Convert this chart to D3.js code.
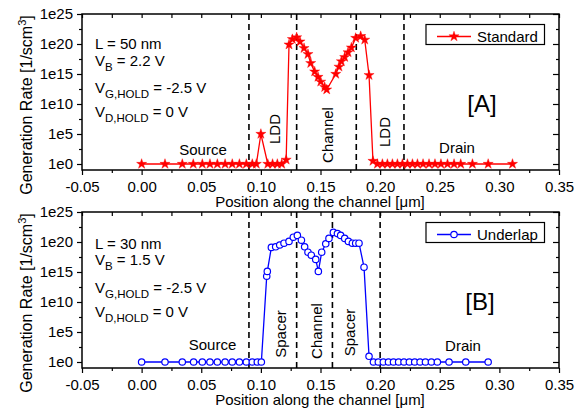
<!DOCTYPE html>
<html><head><meta charset="utf-8">
<script src="https://cdn.jsdelivr.net/npm/d3@7"></script>
<style>
body{margin:0;background:#fff;}
svg{display:block;}
text{font-family:"Liberation Sans",Arial,Helvetica,sans-serif;fill:#000;}
</style></head><body>
<svg id="c" width="582" height="408"></svg>
<script>
// ---- data ----
const xTicks = [-0.05, 0, 0.05, 0.10, 0.15, 0.20, 0.25, 0.30, 0.35];
const xMinorTicks = [-0.025, 0.025, 0.075, 0.125, 0.175, 0.225, 0.275, 0.325];
const yTickExps = [0, 5, 10, 15, 20, 25];
const yMinorExps = [2.5, 7.5, 12.5, 17.5, 22.5];

// Standard device (panel A): position [um], log10 of generation rate
const stdX = [0.000, 0.0196, 0.0341, 0.0433, 0.0509, 0.0573, 0.0635, 0.0700, 0.0760, 0.0820, 0.0878, 0.0928, 0.0962,
  0.1000,
  0.1058, 0.1098, 0.1138, 0.1175, 0.1212,
  0.1236, 0.1264, 0.1300, 0.1328, 0.1362, 0.1395, 0.1418, 0.1451, 0.1479, 0.1502, 0.1535, 0.1552,
  0.1628, 0.1655, 0.1675, 0.1703, 0.1731, 0.1759, 0.1795, 0.1837, 0.1871, 0.1907,
  0.1940,
  0.1977, 0.2019, 0.2061, 0.2103, 0.2145, 0.2187, 0.2229, 0.2271, 0.2313, 0.2360, 0.2410, 0.2460, 0.2510, 0.2565, 0.2620, 0.2676, 0.2774, 0.2906, 0.3110];
const stdLogG = [0,0,0,0,0,0,0,0,0,0,0,0,0,
  5,
  0,0,0,0,0.7,
  19.9, 20.8, 21.1, 20.4, 19.3, 18.3, 16.8, 15.4, 14.5, 13.7, 12.8, 12.4,
  15.0, 16.2, 17.1, 17.8, 18.6, 19.4, 21.0, 21.3, 20.7, 14.8,
  0.5,
  0,0,0,0,0,0,0,0,0,0,0,0,0,0,0,0,0,0,0];

// Underlap device (panel B)
const ulX = [0.000, 0.0196, 0.0341, 0.0436, 0.0509, 0.0573, 0.0635, 0.0700, 0.0760, 0.0820, 0.0878, 0.0928, 0.0970, 0.1004,
  0.1049, 0.1054, 0.1088, 0.1124, 0.1158, 0.1194, 0.1236, 0.1272, 0.1306, 0.1340, 0.1367, 0.1395, 0.1423, 0.1460,
  0.1482, 0.1510, 0.1544, 0.1571, 0.1608, 0.1642, 0.1669, 0.1703, 0.1734, 0.1767, 0.1795, 0.1823, 0.1865, 0.1907,
  0.1944, 0.1985, 0.2027, 0.2070, 0.2112, 0.2155, 0.2200, 0.2245, 0.2290, 0.2335, 0.2380, 0.2430, 0.2480, 0.2578, 0.2718, 0.2906];
const ulLogG = [0,0,0,0,0,0,0,0,0,0,0,0,0,0,
  14.3, 15.1, 19.1, 19.2, 19.5, 19.8, 20.1, 20.8, 21.1, 20.3, 19.2, 18.3, 17.8, 17.1,
  15.1, 18.3, 19.7, 20.6, 21.6, 21.4, 21.1, 20.6, 20.1, 19.8, 19.8, 19.8, 15.8, 0.95,
  0,0,0,0,0,0,0,0,0,0,0,0,0,0,0,0];

const stdBoundaries = [0.09, 0.13, 0.18, 0.22];
const ulBoundaries = [0.09, 0.13, 0.16, 0.20];

const stdParams = [["L = 50 nm", ""], ["V", "B", " = 2.2 V"], ["V", "G,HOLD", " = -2.5 V"], ["V", "D,HOLD", " = 0 V"]];
const ulParams = [["L = 30 nm", ""], ["V", "B", " = 1.5 V"], ["V", "G,HOLD", " = -2.5 V"], ["V", "D,HOLD", " = 0 V"]];

// ---- layout ----
const svg = d3.select("#c");
const L = 82, R = 559;
const x = d3.scaleLinear().domain([-0.05, 0.35]).range([L, R]);
const FONT = 15;
const STAR = 32;

function panel(opt) {
  const top = opt.top, bot = opt.top + 156;
  const y = d3.scaleLog().domain([1e-1, 1e25]).range([bot, top]);
  const g = svg.append("g");
  const fmtX = d => d.toFixed(2);
  const fmtY = d => "1e" + Math.round(Math.log10(d));

  function styleAxis(sel) {
    sel.select(".domain").remove();
    sel.selectAll("line").attr("stroke", "#000").attr("stroke-width", 1.2);
    sel.selectAll("text").style("font-size", FONT + "px").style("font-family", '"Liberation Sans",Arial,sans-serif').attr("fill", "#000");
  }
  // bottom
  g.append("g").attr("transform", `translate(0,${bot})`)
    .call(d3.axisBottom(x).tickValues(xTicks).tickSize(5).tickPadding(6).tickFormat(fmtX)).call(styleAxis);
  g.append("g").attr("transform", `translate(0,${bot})`)
    .call(d3.axisBottom(x).tickValues(xMinorTicks).tickSize(3).tickFormat("")).call(styleAxis);
  // top (inward)
  g.append("g").attr("transform", `translate(0,${top})`)
    .call(d3.axisTop(x).tickValues(xTicks.concat(xMinorTicks)).tickSize(-4).tickFormat("")).call(styleAxis);
  // left
  g.append("g").attr("transform", `translate(${L},0)`)
    .call(d3.axisLeft(y).tickValues(yTickExps.map(e => Math.pow(10, e))).tickSize(5).tickPadding(4).tickFormat(fmtY)).call(styleAxis);
  g.append("g").attr("transform", `translate(${L},0)`)
    .call(d3.axisLeft(y).tickValues(yMinorExps.map(e => Math.pow(10, e))).tickSize(3).tickFormat("")).call(styleAxis);
  // right (inward)
  g.append("g").attr("transform", `translate(${R},0)`)
    .call(d3.axisRight(y).tickValues(yTickExps.map(e => Math.pow(10, e))).tickSize(-6).tickFormat("")).call(styleAxis);
  g.append("g").attr("transform", `translate(${R},0)`)
    .call(d3.axisRight(y).tickValues(yMinorExps.map(e => Math.pow(10, e))).tickSize(-3).tickFormat("")).call(styleAxis);

  // frame
  g.append("rect").attr("x", L).attr("y", top).attr("width", R - L).attr("height", bot - top)
    .attr("fill", "none").attr("stroke", "#000").attr("stroke-width", 1.5);

  // dashed boundaries
  g.selectAll(".bnd").data(opt.bounds).enter().append("line")
    .attr("x1", d => x(d)).attr("x2", d => x(d)).attr("y1", top).attr("y2", bot)
    .attr("stroke", "#000").attr("stroke-width", 1.6).attr("stroke-dasharray", "6,4");

  // axis titles
  g.append("text").attr("x", (L + R) / 2 - 0.5).attr("y", bot + 37).attr("text-anchor", "middle")
    .style("font-size", "15px").text("Position along the channel [\u03bcm]");
  const yt = g.append("text").attr("transform", `translate(32,${top + 91}) rotate(-90)`)
    .attr("text-anchor", "middle").style("font-size", "16px");
  yt.append("tspan").text("Generation Rate [1/scm");
  yt.append("tspan").attr("dy", -6).style("font-size", "11px").text("3");
  yt.append("tspan").attr("dy", 6).text("]");

  // data
  const data = opt.xs.map((v, i) => ({ x: v, g: Math.pow(10, opt.logs[i]) }));
  const line = d3.line().x(d => x(d.x)).y(d => y(d.g));
  g.append("path").datum(data).attr("d", line).attr("fill", "none")
    .attr("stroke", opt.color).attr("stroke-width", 1.3);
  if (opt.marker === "star") {
    g.selectAll(".m").data(data).enter().append("path")
      .attr("d", d3.symbol(d3.symbolStar, STAR)())
      .attr("transform", d => `translate(${x(d.x)},${y(d.g)})`)
      .attr("fill", opt.color).attr("stroke", opt.color).attr("stroke-width", 0.4);
  } else {
    g.selectAll(".m").data(data).enter().append("circle")
      .attr("cx", d => x(d.x)).attr("cy", d => y(d.g)).attr("r", 3.2)
      .attr("fill", "#fff").attr("stroke", opt.color).attr("stroke-width", 1.2);
  }

  // parameter text
  opt.params.forEach((p, i) => {
    const t = g.append("text").attr("x", 95).attr("y", top + opt.paramY[i]).style("font-size", FONT + "px");
    t.append("tspan").text(p[0]);
    if (p.length > 2) {
      t.append("tspan").attr("dy", 5).style("font-size", "11.5px").text(p[1]);
      t.append("tspan").attr("dy", -5).text(p[2]);
    }
  });

  // region labels
  opt.hLabels.forEach(l => {
    g.append("text").attr("x", l[1]).attr("y", top + l[2]).attr("text-anchor", "middle")
      .style("font-size", FONT + "px").text(l[0]);
  });
  opt.vLabels.forEach(l => {
    g.append("text").attr("transform", `translate(${l[1]},${top + l[2]}) rotate(-90)`)
      .attr("text-anchor", "middle").style("font-size", FONT + "px").text(l[0]);
  });

  // panel tag
  g.append("text").attr("x", opt.tag[1]).attr("y", top + opt.tag[2]).attr("text-anchor", "middle")
    .style("font-size", "24px").text(opt.tag[0]);

  // legend
  const lg = g.append("g");
  lg.append("rect").attr("x", 426).attr("y", top + 10.5).attr("width", 118.5).attr("height", 20)
    .attr("fill", "#fff").attr("stroke", "#000").attr("stroke-width", 1.2);
  const ly = top + 22.5;
  lg.append("line").attr("x1", 437).attr("x2", 471).attr("y1", ly).attr("y2", ly)
    .attr("stroke", opt.color).attr("stroke-width", 1.3);
  if (opt.marker === "star") {
    lg.append("path").attr("d", d3.symbol(d3.symbolStar, STAR)()).attr("transform", `translate(454,${ly})`)
      .attr("fill", opt.color).attr("stroke", opt.color).attr("stroke-width", 0.4);
  } else {
    lg.append("circle").attr("cx", 454).attr("cy", ly).attr("r", 3.2).attr("fill", "#fff")
      .attr("stroke", opt.color).attr("stroke-width", 1.2);
  }
  lg.append("text").attr("x", 477).attr("y", top + 27.5).style("font-size", FONT + "px").text(opt.name);
}

panel({
  top: 14, xs: stdX, logs: stdLogG, color: "#ff0000", marker: "star", name: "Standard",
  bounds: stdBoundaries, params: stdParams, paramY: [35, 52, 79, 103],
  hLabels: [["Source", 203, 141], ["Drain", 457, 139]],
  vLabels: [["LDD", 280, 115], ["Channel", 333, 121], ["LDD", 390, 118]],
  tag: ["[A]", 482, 98]
});
panel({
  top: 212, xs: ulX, logs: ulLogG, color: "#0000ff", marker: "circle", name: "Underlap",
  bounds: ulBoundaries, params: ulParams, paramY: [37, 53, 81, 105],
  hLabels: [["Source", 212.5, 138], ["Drain", 463, 138.5]],
  vLabels: [["Spacer", 285.5, 122], ["Channel", 321.5, 119], ["Spacer", 355, 120.5]],
  tag: ["[B]", 480, 98]
});
</script>
</body></html>
